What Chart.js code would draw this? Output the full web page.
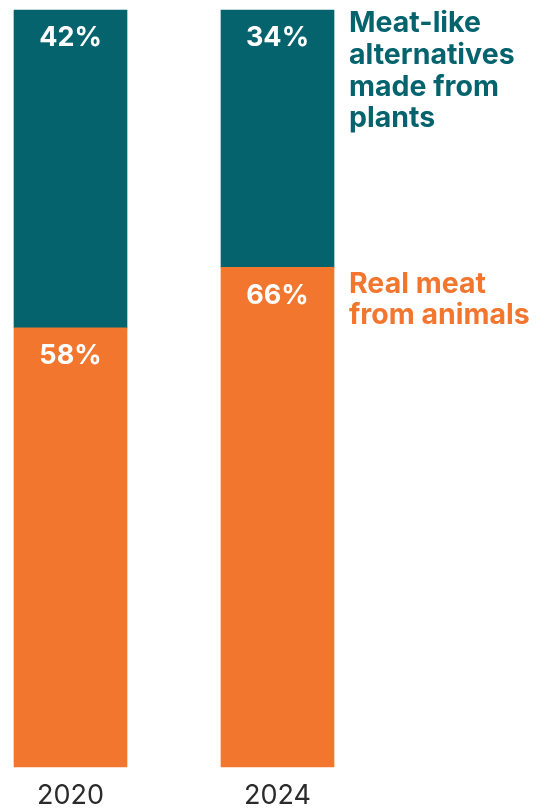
<!DOCTYPE html>
<html>
<head>
<meta charset="utf-8">
<script src="https://cdn.jsdelivr.net/npm/chart.js@4/dist/chart.umd.min.js"></script>
<style>
  html, body { margin: 0; padding: 0; background: #ffffff; }
  #wrap { width: 552px; height: 809px; position: relative; }
</style>
</head>
<body>
<div id="wrap"><canvas id="c" width="552" height="809"></canvas></div>
<script>
const years = ['2020', '2024'];
const meatShare = [58, 66];
const plantShare = [42, 34];
const meatName = ['Real meat', 'from animals'];
const plantName = ['Meat-like', 'alternatives', 'made from', 'plants'];

const TEAL = '#05636E';
const ORANGE = '#F2762E';
const FONT = 'Inter, "Open Sans", sans-serif';

const labelPlugin = {
  id: 'labels',
  afterDatasetsDraw(chart) {
    const ctx = chart.ctx;
    ctx.save();
    ctx.font = '700 27px ' + FONT;
    ctx.fillStyle = '#ffffff';
    ctx.textAlign = 'center';
    ctx.textBaseline = 'middle';
    chart.data.datasets.forEach((ds, di) => {
      const meta = chart.getDatasetMeta(di);
      meta.data.forEach((bar, i) => {
        const top = Math.min(bar.y, bar.base);
        ctx.fillText(ds.data[i] + '%', bar.x, top + 28);
      });
    });
    const lastIdx = years.length - 1;
    const plantBar = chart.getDatasetMeta(1).data[lastIdx];
    const meatBar = chart.getDatasetMeta(0).data[lastIdx];
    const x = plantBar.x + plantBar.width / 2 + 15;
    ctx.textAlign = 'left';
    ctx.textBaseline = 'alphabetic';
    ctx.font = '700 28.5px ' + FONT;
    ctx.fillStyle = TEAL;
    const pTop = Math.min(plantBar.y, plantBar.base);
    plantName.forEach((t, k) => ctx.fillText(t, x, pTop + 22 + k * 31.8));
    ctx.fillStyle = ORANGE;
    const mTop = Math.min(meatBar.y, meatBar.base);
    meatName.forEach((t, k) => ctx.fillText(t, x, mTop + 26 + k * 30.5));
    ctx.restore();
  }
};

new Chart(document.getElementById('c'), {
  type: 'bar',
  data: {
    labels: years,
    datasets: [
      { label: 'Real meat from animals', data: meatShare, backgroundColor: ORANGE, borderWidth: 0, barThickness: 113, clip: false },
      { label: 'Meat-like alternatives made from plants', data: plantShare, backgroundColor: TEAL, borderWidth: 0, barThickness: 113, clip: false }
    ]
  },
  options: {
    responsive: false,
    animation: false,
    devicePixelRatio: 1,
    layout: { padding: { left: 70.5, right: 274.5, top: 10, bottom: 0 } },
    plugins: { legend: { display: false }, tooltip: { enabled: false } },
    scales: {
      x: {
        stacked: true,
        offset: false,
        grid: { display: false, drawTicks: false },
        border: { display: false },
        ticks: { color: '#2b2b2b', font: { family: FONT, size: 27, weight: '400', lineHeight: 1.0 }, padding: 15, maxRotation: 0, autoSkip: false },
        afterFit(scale) { scale.height = 42; }
      },
      y: {
        stacked: true,
        display: false,
        min: 0,
        max: 100
      }
    }
  },
  plugins: [labelPlugin]
});
</script>
</body>
</html>
